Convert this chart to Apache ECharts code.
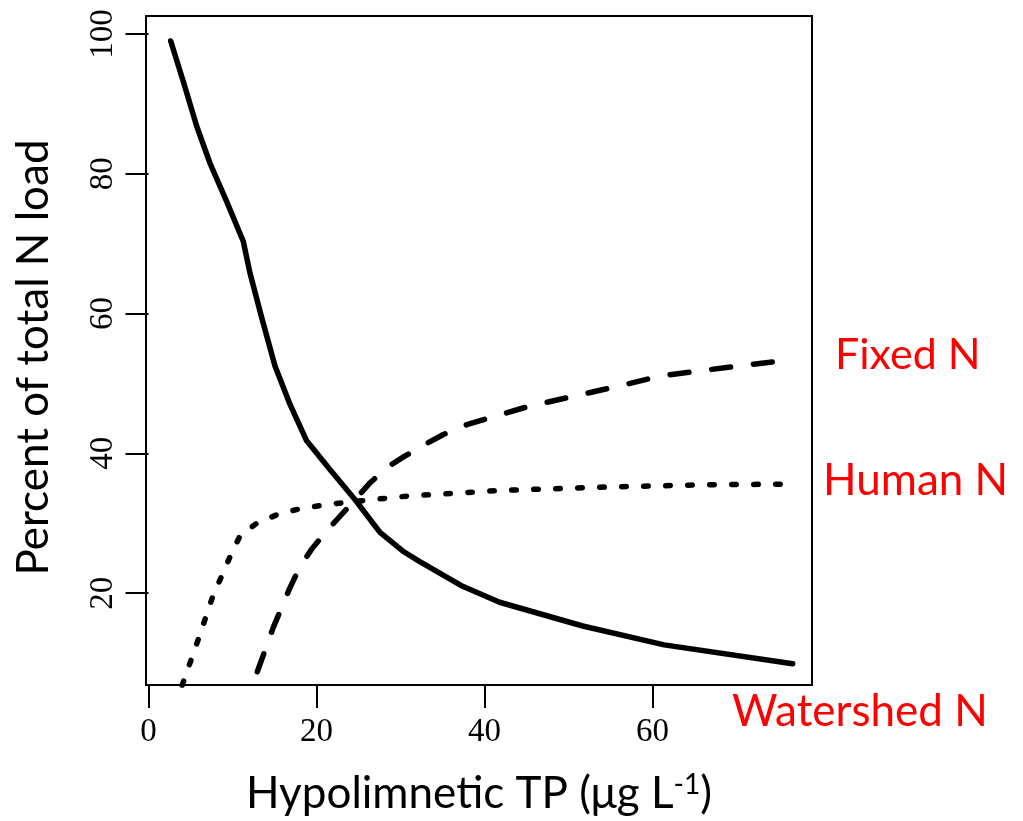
<!DOCTYPE html>
<html><head><meta charset="utf-8">
<script src="https://cdn.jsdelivr.net/npm/echarts@6/dist/echarts.min.js"></script>
<style>html,body{margin:0;padding:0;background:#fff}#c{width:1023px;height:821px}</style>
</head><body><div id="c"></div>
<script>
// Hypolimnetic TP (ug/L) vs percent of total N load
const watershedX = [2.64, 4.14, 5.74, 7.32, 9.31, 11.29, 12.08, 13.48, 15.06, 16.85, 18.83, 21.6, 24.58, 27.56, 30.3, 32.3, 37.2, 41.8, 51.7, 61.4, 76.7];
const watershedY = [99.0, 93.2, 86.8, 81.5, 76.0, 70.3, 65.8, 59.4, 52.5, 47.0, 41.8, 37.7, 33.4, 28.7, 26.0, 24.5, 21.1, 18.7, 15.3, 12.6, 9.9];
const humanX = [4.0, 5.93, 7.64, 9.7, 10.89, 12.88, 15.45, 17.8, 20.8, 23.6, 30.9, 42.0, 54.9, 66.1, 76.4];
const humanY = [6.8, 13.4, 19.5, 25.2, 28.2, 30.0, 31.3, 32.0, 32.6, 33.0, 33.9, 34.7, 35.2, 35.5, 35.6];
const fixedX = [12.95, 14.86, 16.85, 18.04, 19.43, 21.2, 22.8, 26.4, 28.4, 30.5, 33.1, 35.1, 37.9, 40.4, 45.2, 50.7, 55.9, 61.1, 66.3, 74.4];
const fixedY = [8.76, 15.1, 20.8, 23.8, 26.3, 28.9, 31.0, 35.8, 38.0, 39.6, 41.4, 42.7, 44.1, 45.0, 46.7, 48.2, 49.6, 51.1, 51.9, 53.1];
const xTicks = [0, 20, 40, 60];
const yTicks = [20, 40, 60, 80, 100];
const seriesNames = ['Watershed N', 'Human N', 'Fixed N'];

const zip = (xs, ys) => xs.map((x, i) => [x, ys[i]]);
const sans = 'Lato';
const serif = 'Liberation Serif';

const chart = echarts.init(document.getElementById('c'), null, {renderer: 'canvas'});
chart.setOption({
  animation: false,
  backgroundColor: '#fff',
  grid: {left: 146, right: 211, top: 16, bottom: 135, show: true, borderColor: '#000', borderWidth: 2, containLabel: false},
  xAxis: {
    type: 'value', min: -0.3, max: 79.0,
    axisLine: {show: false},
    splitLine: {show: false},
    axisTick: {show: true, length: 23, inside: false, customValues: xTicks, lineStyle: {color: '#000', width: 2}},
    axisLabel: {customValues: xTicks, color: '#000', fontFamily: serif, fontSize: 33, margin: 31},
    name: 'Hypolimnetic TP (μg L{sup|-1})',
    nameLocation: 'middle', nameGap: 86,
    nameTextStyle: {color: '#000', fontFamily: sans, fontSize: 44,
      rich: {sup: {fontFamily: sans, fontSize: 28, color: '#000', verticalAlign: 'top', padding: [0, 0, 18, 0]}}}
  },
  yAxis: {
    type: 'value', min: 6.86, max: 102.57,
    axisLine: {show: false},
    splitLine: {show: false},
    axisTick: {show: true, length: 23, inside: false, customValues: yTicks, lineStyle: {color: '#000', width: 2}},
    axisLabel: {customValues: yTicks, color: '#000', fontFamily: serif, fontSize: 33, rotate: 90, margin: 26},
    name: 'Percent of total N load',
    nameLocation: 'middle', nameGap: 90, nameRotate: 90,
    nameTextStyle: {color: '#000', fontFamily: sans, fontSize: 44, padding: [0, 14, 0, 0]}
  },
  series: [
    {name: seriesNames[0], type: 'line', data: zip(watershedX, watershedY), showSymbol: false, clip: true,
     lineStyle: {color: '#000', width: 5.5, cap: 'round', join: 'round'}},
    {name: seriesNames[1], type: 'line', data: zip(humanX, humanY), showSymbol: false, clip: true,
     lineStyle: {color: '#000', width: 5.5, type: [4.5, 17.5], cap: 'round', join: 'round'}},
    {name: seriesNames[2], type: 'line', data: zip(fixedX, fixedY), showSymbol: false, clip: true,
     lineStyle: {color: '#000', width: 5.5, type: [19, 23], cap: 'round', join: 'round'}}
  ],
  graphic: [
    {type: 'text', left: 835, top: 334, style: {text: seriesNames[2], fill: '#ff0000', font: '43px ' + sans}},
    {type: 'text', left: 823, top: 459, style: {text: seriesNames[1], fill: '#ff0000', font: '44px ' + sans}},
    {type: 'text', left: 732, top: 690, style: {text: seriesNames[0], fill: '#ff0000', font: '44px ' + sans}}
  ]
});
</script></body></html>
